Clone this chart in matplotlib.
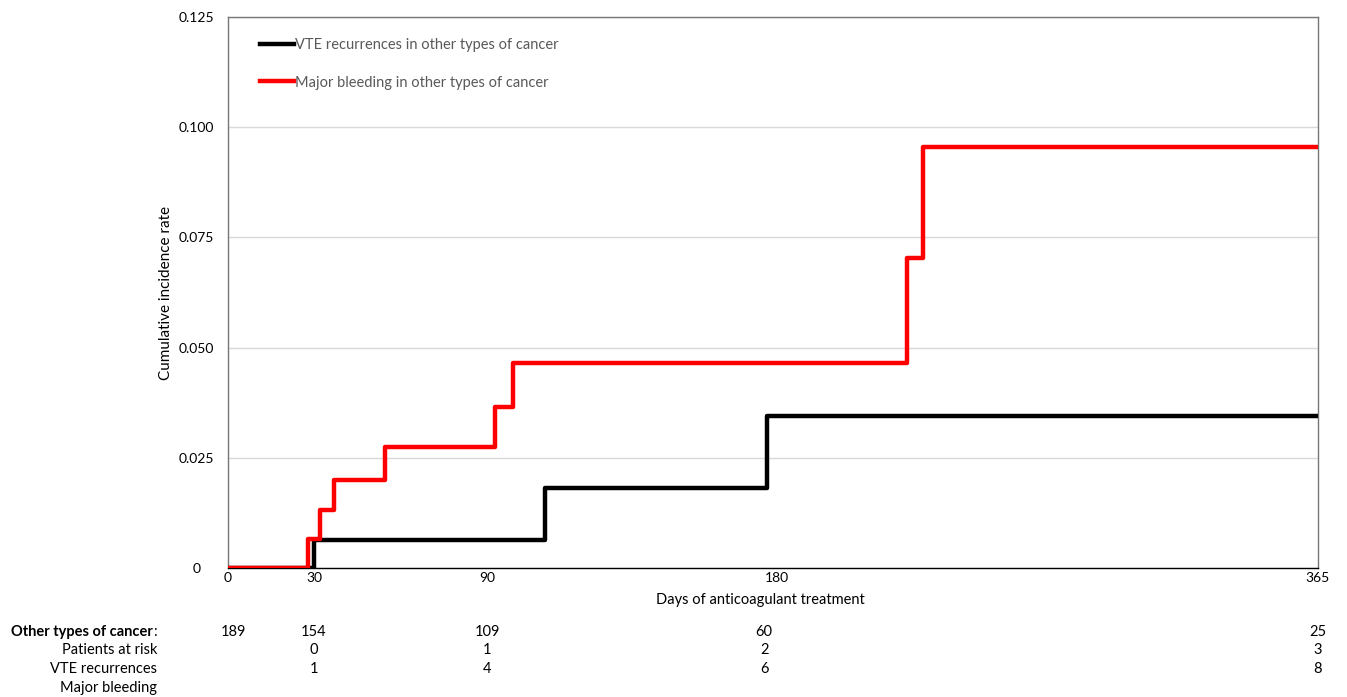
import numpy as np
import matplotlib
matplotlib.use("Agg")
import matplotlib.pyplot as plt
import matplotlib.transforms as mtransforms
from matplotlib.transforms import blended_transform_factory

plt.rcParams['font.family'] = ['Lato', 'DejaVu Sans']

# ---- data ----
tick_days = [0, 30, 90, 180, 365]
tick_labels = ["0", "30", "90", "180", "365"]
# uneven category-like spacing of the original x axis (relative positions)
tick_pos = [0, 86, 259, 549, 1090]

vte_days = [0, 30, 108, 177, 365]
vte_vals = [0.0, 0.0064, 0.0182, 0.0345, 0.0345]

bleed_days = [0, 28, 32, 37, 54.5, 92.5, 98, 224.5, 230, 365]
bleed_vals = [0.0, 0.0066, 0.0132, 0.0200, 0.0275, 0.0366, 0.0466, 0.0704, 0.0954, 0.0954]

y_ticks = [0, 0.025, 0.05, 0.075, 0.1, 0.125]
y_tick_labels = ["0", "0.025", "0.050", "0.075", "0.100", "0.125"]

risk_days = [2, 30, 90, 176, 365]
patients_at_risk = ["189", "154", "109", "60", "25"]
vte_counts = ["", "0", "1", "2", "3"]
bleed_counts = ["", "1", "4", "6", "8"]
row_labels = ["Patients at risk", "VTE recurrences", "Major bleeding"]

# ---- figure ----
W, H = 1347, 697
fig = plt.figure(figsize=(W / 100, H / 100), dpi=100)
ax = fig.add_axes([228 / W, 1 - 568 / H, (1318 - 228) / W, (568 - 17) / H])

def fwd(x):
    return np.interp(x, tick_days, tick_pos)

def inv(p):
    return np.interp(p, tick_pos, tick_days)

ax.set_xscale('function', functions=(fwd, inv))
ax.set_xlim(0, 365)
ax.set_ylim(0, 0.125)

ax.set_yticks(y_ticks)
ax.set_yticklabels(y_tick_labels)
ax.set_xticks(tick_days)
ax.set_xticklabels(tick_labels)
ax.tick_params(axis='both', length=0, labelsize=10, colors='black')
ax.tick_params(axis='y', pad=16)
ax.tick_params(axis='x', pad=3)
offset = mtransforms.ScaledTranslation(-9 / 100, 0, fig.dpi_scale_trans)
for lab in ax.get_yticklabels():
    lab.set_horizontalalignment('center')
    lab.set_transform(lab.get_transform() + offset)

ax.grid(axis='y', color='#d9d9d9', linewidth=1)
ax.set_axisbelow(True)
for s in ['top', 'right', 'left']:
    ax.spines[s].set_color('#767676')
    ax.spines[s].set_linewidth(1)
ax.spines['bottom'].set_color('black')
ax.spines['bottom'].set_linewidth(1)

ax.step(vte_days, vte_vals, where='post', color='black', lw=3.2,
        label='VTE recurrences in other types of cancer', zorder=3)
ax.step(bleed_days, bleed_vals, where='post', color='#ff0000', lw=3.2,
        label='Major bleeding in other types of cancer', zorder=4)

leg = ax.legend(loc='upper left', bbox_to_anchor=(0.024, 0.972), frameon=False,
                fontsize=10.5, handlelength=2.3, handletextpad=0.1,
                labelspacing=1.6, borderaxespad=0)
for t in leg.get_texts():
    t.set_color('#595959')

ax.set_ylabel('Cumulative incidence rate', fontsize=11)
ax.yaxis.set_label_coords((173 - 228) / (1318 - 228), 0.5)
ax.set_xlabel('Days of anticoagulant treatment', fontsize=10.5)
ax.xaxis.set_label_coords((760 - 228) / (1318 - 228), -(593 - 568) / (568 - 17))

# ---- at-risk table ----
trans = blended_transform_factory(ax.transData, fig.transFigure)
row_y = [1 - 632 / H, 1 - 650 / H, 1 - 669 / H, 1 - 688 / H]
fs = 10.5
for d, v in zip(risk_days, patients_at_risk):
    ax.text(d, row_y[0], v, transform=trans, ha='center', va='center', fontsize=fs)
for d, v in zip(risk_days, vte_counts):
    ax.text(d, row_y[1], v, transform=trans, ha='center', va='center', fontsize=fs)
for d, v in zip(risk_days, bleed_counts):
    ax.text(d, row_y[2], v, transform=trans, ha='center', va='center', fontsize=fs)

lx = 157 / W
fig.text(lx, row_y[0], ':', ha='right', va='center', fontsize=fs)
fig.text(lx - 4 / W, row_y[0], 'Other types of cancer', ha='right', va='center',
         fontsize=fs, fontweight='bold')
for y, lab in zip(row_y[1:], row_labels):
    fig.text(lx, y, lab, ha='right', va='center', fontsize=fs)

fig.savefig('out.png', dpi=100)
